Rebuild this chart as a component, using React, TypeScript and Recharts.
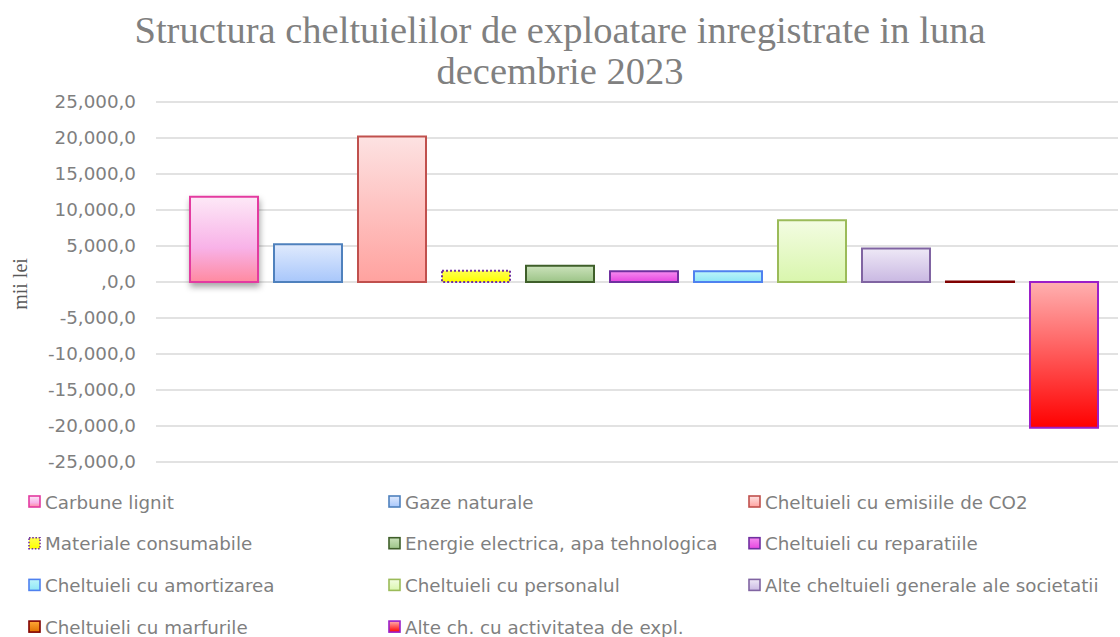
import React from 'react';
import { BarChart, Bar, XAxis, YAxis, CartesianGrid } from 'recharts';

const categories = [
  'Carbune lignit',
  'Gaze naturale',
  'Cheltuieli cu emisiile de CO2',
  'Materiale consumabile',
  'Energie electrica, apa tehnologica',
  'Cheltuieli cu reparatiile',
  'Cheltuieli cu amortizarea',
  'Cheltuieli cu personalul',
  'Alte cheltuieli generale ale societatii',
  'Cheltuieli cu marfurile',
  'Alte ch. cu activitatea de expl.',
];

const values = [11850, 5240, 20200, 1550, 2250, 1500, 1480, 8570, 4650, 60, -20250];

const yTicks = [25000, 20000, 15000, 10000, 5000, 0, -5000, -10000, -15000, -20000, -25000];

const titleLines = ['Structura cheltuielilor de exploatare inregistrate in luna', 'decembrie 2023'];
const axisLabel = 'mii lei';

type SeriesStyle = { stops: [number, string][]; stroke: string; dash?: string; shadow?: boolean };

const seriesStyles: SeriesStyle[] = [
  { stops: [[0, '#fde9f7'], [0.6, '#f8b2e8'], [1, '#ff8aa0']], stroke: '#e33aa0', shadow: true },
  { stops: [[0, '#e0eafd'], [1, '#a8c7fb']], stroke: '#4f81bd' },
  { stops: [[0, '#fde2e2'], [1, '#ffa29f']], stroke: '#c0504d' },
  { stops: [[0, '#ffff50'], [1, '#ffff00']], stroke: '#7030a0', dash: '2 2' },
  { stops: [[0, '#cbe2bb'], [1, '#9cc487']], stroke: '#3f5f2a' },
  { stops: [[0, '#f68cf0'], [1, '#e645e0']], stroke: '#7030a0' },
  { stops: [[0, '#bdf5fa'], [1, '#8ee6f6']], stroke: '#4f81ef' },
  { stops: [[0, '#f3fce2'], [1, '#d9f6ad']], stroke: '#9bbb59' },
  { stops: [[0, '#eee8f6'], [1, '#c9b8e2']], stroke: '#8064a2' },
  { stops: [[0, '#ffa838'], [1, '#e07000']], stroke: '#800000' },
  { stops: [[0, '#ffb0b0'], [1, '#ff0000']], stroke: '#9b1fc8' },
];

const row: Record<string, number | string> = { name: 'decembrie 2023' };
categories.forEach((c, i) => {
  row['s' + i] = values[i];
});
const data = [row];

const fmt = (v: number) => {
  if (v === 0) return ',0,0';
  return v.toLocaleString('en-US') + ',0';
};

const grey = '#7f7f7f';

export default function App() {
  return (
    <div style={{ position: 'absolute', left: 0, top: 0, width: 1120, height: 637, background: '#fff', overflow: 'hidden' }}>
      <div
        style={{
          position: 'absolute',
          left: 0,
          top: 10,
          width: 1120,
          textAlign: 'center',
          fontFamily: '"Liberation Serif", serif',
          fontSize: 38.5,
          lineHeight: '41px',
          color: '#808080',
          whiteSpace: 'nowrap',
        }}
      >
        {titleLines[0]}
        <br />
        {titleLines[1]}
      </div>
      <svg style={{ position: 'absolute', left: 0, top: 0 }} width={40} height={637}>
        <text
          x={0}
          y={0}
          transform="translate(27,284) rotate(-90)"
          textAnchor="middle"
          fontFamily='"Liberation Serif", serif'
          fontSize={20}
          fill="#595959"
        >
          {axisLabel}
        </text>
      </svg>
      <div style={{ position: 'absolute', left: 0, top: 0 }}>
        <BarChart
          width={1120}
          height={637}
          data={data}
          margin={{ top: 102, right: 2, bottom: 175, left: 0 }}
          barGap={16}
          barSize={68}
        >
          <defs>
            {seriesStyles.map((s, i) => (
              <linearGradient key={i} id={'g' + i} x1="0" y1="0" x2="0" y2="1">
                {s.stops.map(([o, c], j) => (
                  <stop key={j} offset={o} stopColor={c} />
                ))}
              </linearGradient>
            ))}
            <filter id="shadow" x="-20%" y="-20%" width="140%" height="140%">
              <feDropShadow dx="1" dy="4" stdDeviation="3" floodColor="#000" floodOpacity="0.35" />
            </filter>
          </defs>
          <CartesianGrid vertical={false} stroke="#d9d9d9" strokeWidth={1.5} />
          <XAxis dataKey="name" hide padding={{ left: 14, right: 0 }} />
          <YAxis
            width={156}
            domain={[-25000, 25000]}
            ticks={yTicks}
            interval={0}
            axisLine={false}
            tickLine={false}
            tickSize={0}
            tickMargin={20}
            tickFormatter={fmt}
            tick={{ fill: grey, fontSize: 18.3, fontFamily: '"DejaVu Sans", sans-serif' }}
          />
          {categories.map((c, i) => (
            <Bar
              key={i}
              dataKey={'s' + i}
              name={c}
              fill={`url(#g${i})`}
              stroke={seriesStyles[i].stroke}
              strokeWidth={2}
              strokeDasharray={seriesStyles[i].dash}
              filter={seriesStyles[i].shadow ? 'url(#shadow)' : undefined}
              isAnimationActive={false}
            />
          ))}
        </BarChart>
      </div>
      <svg style={{ position: 'absolute', left: 0, top: 0, pointerEvents: 'none' }} width={1120} height={637}>
        <defs>
          {seriesStyles.map((s, i) => (
            <linearGradient key={i} id={'lg' + i} x1="0" y1="0" x2="0" y2="1">
              {s.stops.map(([o, c], j) => (
                <stop key={j} offset={o} stopColor={c} />
              ))}
            </linearGradient>
          ))}
        </defs>
        {categories.map((c, i) => {
          const col = i % 3;
          const r = Math.floor(i / 3);
          const x = 29 + col * 360;
          const y = 502 + r * 41.7;
          const s = seriesStyles[i];
          return (
            <g key={i}>
              <rect
                x={x}
                y={y - 6}
                width={11}
                height={11}
                fill={`url(#lg${i})`}
                stroke={s.stroke}
                strokeWidth={1.6}
                strokeDasharray={s.dash ? '1.6 1.6' : undefined}
              />
              <text
                x={x + 16}
                y={y}
                dy="0.36em"
                fontFamily='"DejaVu Sans", sans-serif'
                fontSize={18.3}
                fill={grey}
              >
                {c}
              </text>
            </g>
          );
        })}
      </svg>
    </div>
  );
}
